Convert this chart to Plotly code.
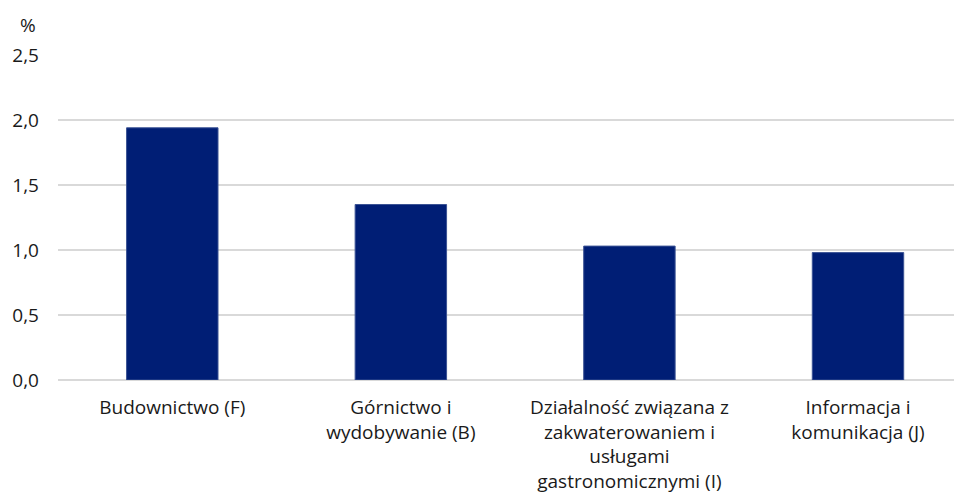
import plotly.graph_objects as go

categories = [
    "Budownictwo (F)",
    "Górnictwo i<br>wydobywanie (B)",
    "Działalność związana z<br>zakwaterowaniem i<br>usługami<br>gastronomicznymi (I)",
    "Informacja i<br>komunikacja (J)",
]
values = [1.94, 1.35, 1.03, 0.98]
y_ticks = [0, 0.5, 1.0, 1.5, 2.0, 2.5]
y_tick_labels = ["0,0", "0,5", "1,0", "1,5", "2,0", "2,5"]

font = "Open Sans"
txt = "#1a1a1a"
fsize = 19

fig = go.Figure()
fig.add_trace(
    go.Bar(
        x=list(range(len(categories))),
        y=values,
        width=0.4,
        marker=dict(color="#001E75", line=dict(color="#3B5394", width=1)),
    )
)

# page body has an 8px margin, so the figure is shifted by 8px
fig.update_layout(
    width=954,
    height=485,
    margin=dict(l=50, r=0, t=47, b=113),
    plot_bgcolor="white",
    paper_bgcolor="white",
    showlegend=False,
    font=dict(family=font, size=fsize, color=txt),
    xaxis=dict(
        range=[-0.5, 3.455],
        tickmode="array",
        tickvals=list(range(len(categories))),
        ticktext=categories,
        showgrid=False,
        zeroline=False,
        showline=False,
        ticks="",
        ticklabelstandoff=14,
        automargin=False,
    ),
    yaxis=dict(
        range=[0, 2.5],
        tickmode="array",
        tickvals=y_ticks,
        ticktext=y_tick_labels,
        showgrid=True,
        gridcolor="#D9D9D9",
        gridwidth=1.5,
        zeroline=True,
        zerolinecolor="#D9D9D9",
        zerolinewidth=1.5,
        ticks="",
        ticklabelstandoff=18,
        automargin=False,
    ),
    annotations=[
        dict(
            text="%",
            xref="paper",
            yref="paper",
            x=-0.033,
            y=1.0,
            yshift=30,
            showarrow=False,
            xanchor="center",
            yanchor="middle",
            font=dict(family=font, size=fsize, color=txt),
        )
    ],
)

fig.write_html("out.html")
